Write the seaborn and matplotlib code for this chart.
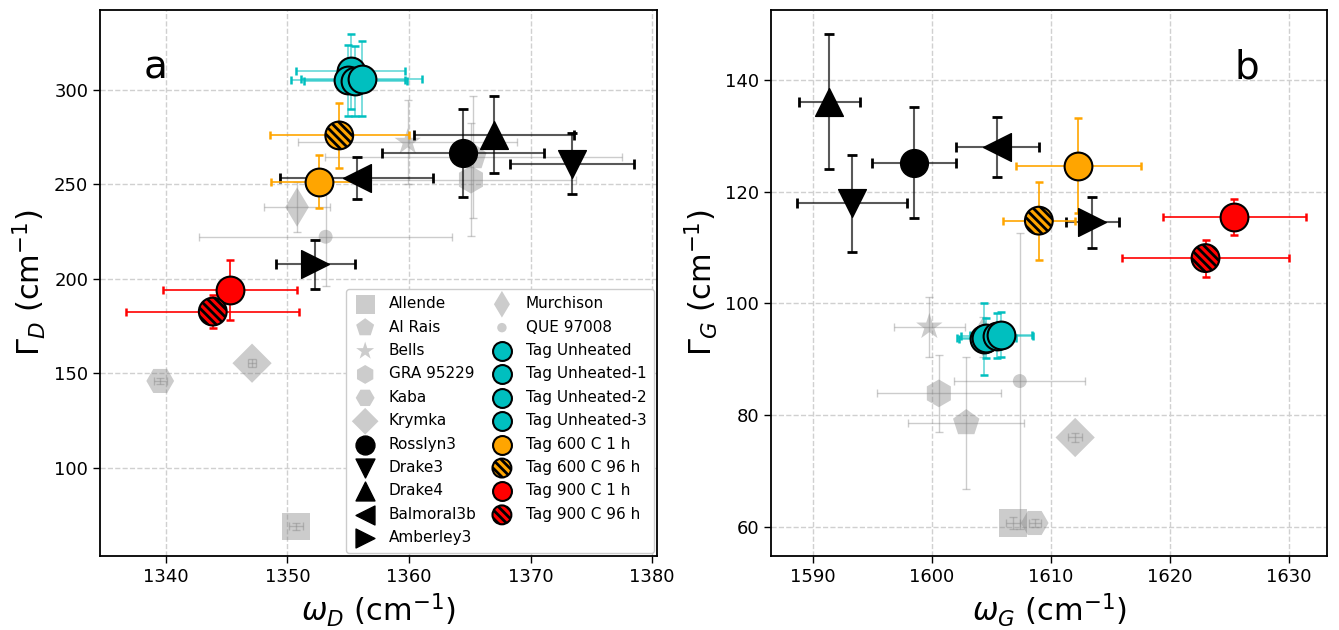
import numpy as np
import pandas as pd
import matplotlib.pyplot as plt
import seaborn as sns

# ==============================
# DATI
# ==============================
names = [
    "Allende", "Al Rais", "Bells", "GRA 95229", "Kaba", "Krymka",
    "Murchison", "QUE 97008", "Rosslyn3", "Drake3", "Drake4",
    "Balmoral3b", "Amberley3", "Tag Unheated", "Tag Unheated-1",
    "Tag Unheated-2", "Tag Unheated-3", "Tag 600 C 1 h", "Tag 600 C 96 h",
    "Tag 900 C 1 h", "Tag 900 C 96 h",
]

# pannello a: banda D
omega_D = [1350.7, 1365.3, 1359.9, 1365.1, 1339.55, 1347.1,
           1350.8, 1353.15, 1364.45, 1373.37, 1367.0,
           1355.7, 1352.3, 1355.2, 1355.0,
           1355.6, 1356.1, 1352.63, 1354.27,
           1345.3, 1343.87]
omega_D_err = [0.6, 12.2, 9.0, 8.6, 0.55, 0.3,
               2.7, 10.4, 6.65, 5.1, 6.6,
               6.3, 3.25, 4.5, 4.7,
               4.2, 5.0, 4.0, 5.7,
               5.5, 7.1]
gamma_D = [69.0, 264.5, 272.4, 252.5, 146.0, 155.4,
           238.0, 222.3, 266.6, 260.9, 276.3,
           253.4, 207.8, 309.8, 305.0,
           304.5, 306.0, 251.4, 275.9,
           194.2, 182.7]
gamma_D_err = [1.6, 32.5, 22.0, 30.0, 1.8, 2.0,
               13.4, 26.0, 23.4, 16.2, 20.5,
               11.3, 12.9, 20.0, 19.0,
               18.5, 20.0, 14.0, 17.4,
               15.9, 8.7]

# pannello b: banda G
omega_G = [1606.8, 1602.9, 1599.8, 1600.6, 1608.65, 1612.05,
           1604.3, 1607.4, 1598.5, 1593.3, 1591.4,
           1605.5, 1613.5, 1604.4, 1604.6,
           1605.5, 1605.8, 1612.3, 1609.0,
           1625.4, 1623.0]
omega_G_err = [0.6, 4.85, 3.0, 5.2, 0.5, 0.6,
               1.0, 5.5, 3.5, 4.6, 2.55,
               3.5, 2.2, 2.1, 2.5,
               3.0, 2.6, 5.25, 3.0,
               6.0, 7.0]
gamma_G = [60.7, 78.6, 95.8, 83.9, 60.7, 76.0,
           94.0, 86.1, 125.2, 117.9, 136.1,
           128.0, 114.5, 93.6, 93.8,
           94.2, 94.4, 124.6, 114.8,
           115.5, 108.1]
gamma_G_err = [1.0, 11.8, 5.4, 6.9, 0.8, 0.8,
               3.6, 26.5, 9.9, 8.7, 12.05,
               5.4, 4.6, 6.5, 3.5,
               4.0, 4.0, 8.5, 7.0,
               3.2, 3.3]

df_a = pd.DataFrame({"name": names, "x": omega_D, "xerr": omega_D_err,
                     "y": gamma_D, "yerr": gamma_D_err})
df_b = pd.DataFrame({"name": names, "x": omega_G, "xerr": omega_G_err,
                     "y": gamma_G, "yerr": gamma_G_err})

# ==============================
# STILI
# ==============================
markers = {
    "Allende": "s", "Al Rais": "p", "Bells": "*", "GRA 95229": "h",
    "Kaba": "H", "Krymka": "D", "Murchison": "d", "QUE 97008": ".",
    "Rosslyn3": "o", "Drake3": "v", "Drake4": "^", "Balmoral3b": "<",
    "Amberley3": ">",
}
gray_names = names[:8]
black_names = names[8:13]
tag_colors = {
    "Tag Unheated": "c", "Tag Unheated-1": "c", "Tag Unheated-2": "c",
    "Tag Unheated-3": "c", "Tag 600 C 1 h": "orange",
    "Tag 600 C 96 h": "orange", "Tag 900 C 1 h": "red",
    "Tag 900 C 96 h": "red",
}
hatched = ["Tag 600 C 96 h", "Tag 900 C 96 h"]

legend_order = (gray_names[:6] + black_names + gray_names[6:]
                + list(tag_colors.keys()))

sns.set_style("ticks", {
    "axes.grid": True,
    "grid.linestyle": "--",
    "grid.color": "#d0d0d0",
    "axes.edgecolor": "black",
    "axes.labelcolor": "black",
    "text.color": "black",
    "xtick.color": "black",
    "ytick.color": "black",
})
plt.rcParams["hatch.linewidth"] = 2
plt.rcParams["font.family"] = ["DejaVu Sans"]

fig = plt.figure(figsize=(13.39, 6.30), dpi=100)
ax_a = fig.add_axes([0.0747, 0.1175, 0.416, 0.8667])
ax_b = fig.add_axes([0.5758, 0.1175, 0.4152, 0.8667])

S = 400


def disegna(ax, df):
    handles = {}
    for _, r in df.iterrows():
        n = r["name"]
        if n in gray_names:
            ax.errorbar(r["x"], r["y"], xerr=r["xerr"], yerr=r["yerr"],
                        fmt="none", ecolor="gray", elinewidth=1,
                        capsize=3, capthick=1, alpha=0.4, zorder=1)
            sns.scatterplot(x=[r["x"]], y=[r["y"]], ax=ax,
                            marker=markers[n], s=S, color="gray",
                            alpha=0.4, edgecolor="none", linewidth=0,
                            zorder=2, label=n, legend=False)
        elif n in black_names:
            eb = ax.errorbar(r["x"], r["y"], xerr=r["xerr"], yerr=r["yerr"],
                             fmt="none", ecolor="k", elinewidth=1.5,
                             capsize=3.5, capthick=2, zorder=2)
            for lc in eb[2]:
                lc.set_alpha(0.65)
            sns.scatterplot(x=[r["x"]], y=[r["y"]], ax=ax,
                            marker=markers[n], s=S, color="k",
                            edgecolor="k", linewidth=1,
                            zorder=3, label=n, legend=False)
        else:
            col = tag_colors[n]
            eb = ax.errorbar(r["x"], r["y"], xerr=r["xerr"], yerr=r["yerr"],
                             fmt="none", ecolor=col, elinewidth=1.2,
                             capsize=3, capthick=1.8, zorder=2)
            if col == "c":
                for lc in eb[2]:
                    lc.set_alpha(0.6)
            sns.scatterplot(x=[r["x"]], y=[r["y"]], ax=ax,
                            marker="o", s=S, color=col,
                            edgecolor="k", linewidth=1.5,
                            hatch="\\\\\\\\" if n in hatched else None,
                            zorder=4, label=n, legend=False)
        handles[n] = ax.collections[-1]
    return handles


h_a = disegna(ax_a, df_a)
disegna(ax_b, df_b)

ax_a.set_xlim(1334.6, 1380.4)
ax_a.set_ylim(53.4, 342.3)
ax_a.set_xticks([1340, 1350, 1360, 1370, 1380])
ax_a.set_yticks([100, 150, 200, 250, 300])
ax_b.set_xlim(1586.5, 1633.2)
ax_b.set_ylim(54.8, 152.5)
ax_b.set_xticks([1590, 1600, 1610, 1620, 1630])
ax_b.set_yticks([60, 80, 100, 120, 140])

ax_a.set_xlabel(r"$\omega_D$ (cm$^{-1}$)", fontsize=22)
ax_a.set_ylabel(r"$\Gamma_D$ (cm$^{-1}$)", fontsize=22)
ax_b.set_xlabel(r"$\omega_G$ (cm$^{-1}$)", fontsize=22)
ax_b.set_ylabel(r"$\Gamma_G$ (cm$^{-1}$)", fontsize=22)

for ax, lettera, xpos in [(ax_a, "a", 0.1), (ax_b, "b", 0.856)]:
    ax.tick_params(labelsize=13, length=5, width=1, direction="out")
    for sp in ax.spines.values():
        sp.set_linewidth(1.3)
        sp.set_color("black")
    ax.grid(True, linestyle="--", color="#d0d0d0", linewidth=1)
    ax.set_axisbelow(True)
    ax.text(xpos, 0.894, lettera, transform=ax.transAxes, fontsize=28,
            ha="center", va="center")

ax_a.legend([h_a[n] for n in legend_order], legend_order, ncol=2,
            loc="lower right", fontsize=11, markerscale=0.68,
            handlelength=1.5, handletextpad=0.8, labelspacing=0.55,
            columnspacing=0.9, borderaxespad=0.2, borderpad=0.5,
            frameon=True, framealpha=1.0, edgecolor="#cccccc")

plt.savefig("out.png", dpi=100)
